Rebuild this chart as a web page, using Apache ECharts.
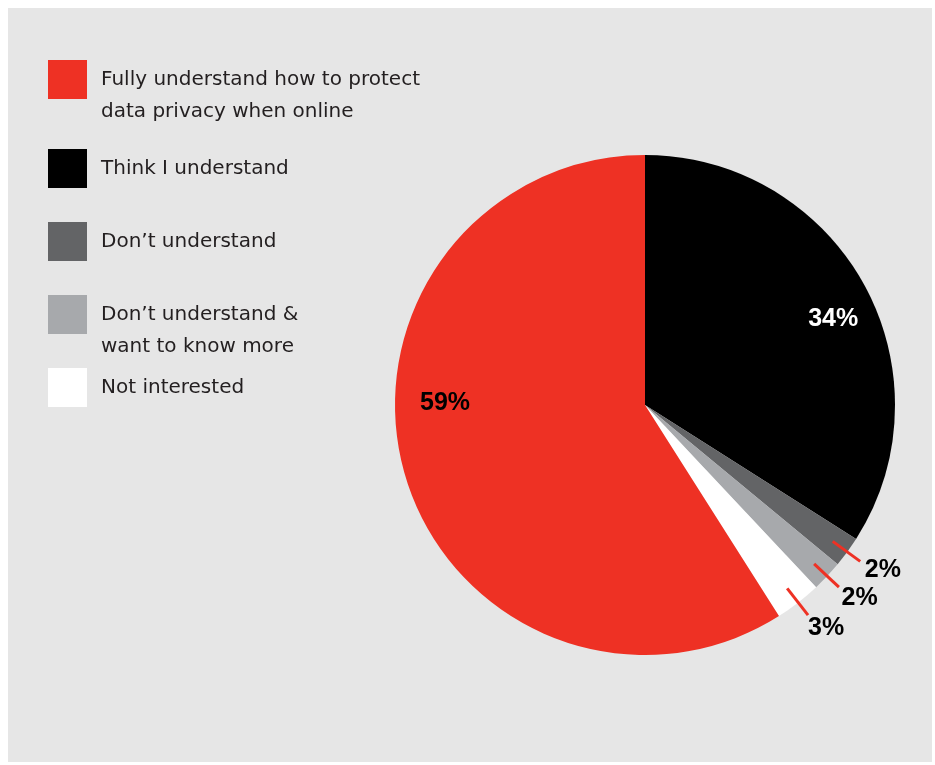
<!DOCTYPE html>
<html>
<head>
<meta charset="utf-8">
<script src="https://cdn.jsdelivr.net/npm/echarts@6/dist/echarts.min.js"></script>
<style>
  html, body { margin: 0; padding: 0; background: #ffffff; }
  #chart { width: 935px; height: 765px; }
</style>
</head>
<body>
<div id="chart"></div>
<script>
// Survey answers, in drawing order (clockwise from 12 o'clock)
const categories = [
  'Think I understand',
  "Don\u2019t understand",
  "Don\u2019t understand & want to know more",
  'Not interested',
  'Fully understand how to protect data privacy when online'
];
const shares = [34, 2, 2, 3, 59];

// Legend order and wrapped legend text
const legendOrder = [
  'Fully understand how to protect data privacy when online',
  'Think I understand',
  "Don\u2019t understand",
  "Don\u2019t understand & want to know more",
  'Not interested'
];
const legendText = [
  'Fully understand how to protect\ndata privacy when online',
  'Think I understand',
  "Don\u2019t understand",
  "Don\u2019t understand &\nwant to know more",
  'Not interested'
];

const sliceColors = ['#000000', '#636466', '#a7a9ac', '#ffffff', '#ee3124'];
const RED = '#ee3124';

// Large slices carry their value inside, nudged from the default inner spot
const insideNudge = { 0: [76, -24], 4: [-77, -38] };

// One legend block per entry so each square can sit at its own height.
// Two-line entries get a leading blank line so the first line lines up with the square.
const legendTops = [31.5, 149, 222, 266.5, 368];
const legends = legendOrder.map(function (name, i) {
  const twoLine = legendText[i].indexOf('\n') >= 0;
  return {
    data: [name],
    left: 48,
    top: legendTops[i],
    orient: 'vertical',
    padding: 0,
    itemWidth: 39,
    itemHeight: 39,
    icon: 'rect',
    selectedMode: false,
    formatter: function () { return twoLine ? '\n' + legendText[i] : legendText[i]; },
    textStyle: {
      fontFamily: 'DejaVu Sans',
      fontSize: 20,
      lineHeight: 32,
      color: '#231f20',
      padding: [0, 0, 0, 9]
    }
  };
});

const labelFont = {
  formatter: '{c}%',
  fontFamily: 'Liberation Sans',
  fontWeight: 'bold',
  fontSize: 25
};

// Main pie: the slices, plus the values of the two large slices
const mainData = categories.map(function (name, i) {
  const inside = insideNudge[i] !== undefined;
  return {
    name: name,
    value: shares[i],
    itemStyle: { color: sliceColors[i] },
    label: inside
      ? { show: true, position: 'inside', offset: insideNudge[i], color: i === 0 ? '#ffffff' : '#000000' }
      : { show: false },
    labelLine: { show: false }
  };
});

// Callout layer: same values on a slightly smaller invisible pie drawn on top,
// so the red leader lines start inside the slices and run out past the rim
const calloutData = categories.map(function (name, i) {
  const small = insideNudge[i] === undefined;
  return {
    name: name,
    value: shares[i],
    label: { show: small },
    labelLine: { show: small }
  };
});

const chart = echarts.init(document.getElementById('chart'), null, { renderer: 'canvas' });
chart.setOption({
  animation: false,
  backgroundColor: 'transparent',
  graphic: [{
    type: 'rect',
    left: 8, top: 8, z: -10,
    shape: { width: 924, height: 754 },
    style: { fill: '#e6e6e6' },
    silent: true
  }],
  legend: legends,
  series: [{
    type: 'pie',
    z: 2,
    center: [645, 405],
    radius: [0, 250],
    startAngle: 90,
    clockwise: true,
    avoidLabelOverlap: false,
    silent: true,
    itemStyle: { borderWidth: 0 },
    label: labelFont,
    data: mainData
  }, {
    type: 'pie',
    z: 5,
    center: [645, 405],
    radius: [0, 232],
    startAngle: 90,
    clockwise: true,
    avoidLabelOverlap: false,
    silent: true,
    legendHoverLink: false,
    itemStyle: { color: 'rgba(0,0,0,0)', borderWidth: 0 },
    label: Object.assign({ position: 'outside', color: '#000000' }, labelFont),
    labelLine: {
      length: 34,
      length2: 0,
      smooth: false,
      lineStyle: { color: RED, width: 3 }
    },
    labelLayout: function (p) {
      const pts = p.labelLinePoints;
      if (!pts || pts.length < 2) return {};
      const a = pts[0], b = pts[pts.length - 1];
      const dx = b[0] - a[0], dy = b[1] - a[1];
      const len = Math.sqrt(dx * dx + dy * dy) || 1;
      const ux = dx / len, uy = dy / len;
      // seat the value just beyond the tip of its leader line
      return {
        x: b[0] + ux * 23 + 4,
        y: b[1] + uy * 23 - 5,
        align: 'center',
        verticalAlign: 'middle',
        labelLinePoints: [[a[0], a[1]], [b[0], b[1]]]
      };
    },
    data: calloutData
  }]
});
</script>
</body>
</html>
